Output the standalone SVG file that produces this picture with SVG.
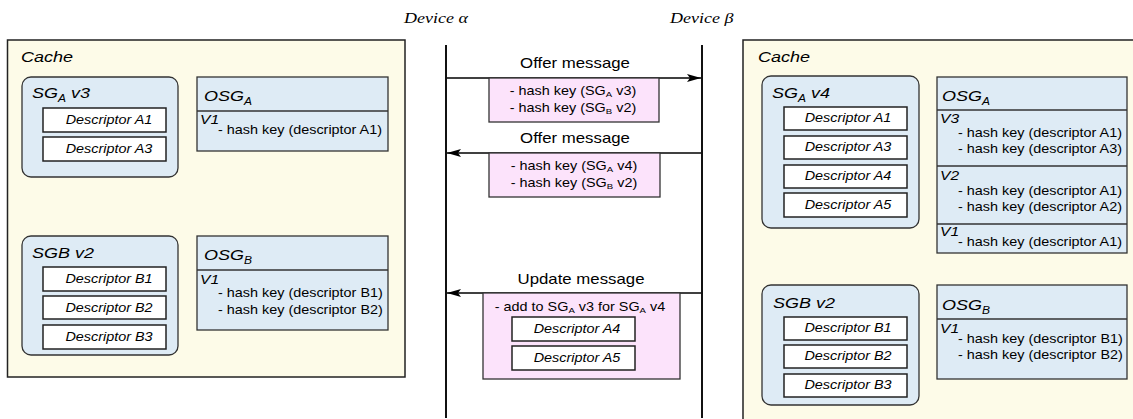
<svg xmlns="http://www.w3.org/2000/svg" width="1133" height="419" viewBox="0 0 1133 419">
<style>
text{font-family:"Liberation Sans",Arial,sans-serif;fill:#000}
.it{font-style:italic}
.f15{font-size:15px}
.f14{font-size:14px}
.f13{font-size:13px}
.f12{font-size:12px}
.dev{font-family:"Liberation Serif","Times New Roman",serif;font-style:italic;font-size:15px}
.cache{fill:#fdfbe8;stroke:#222;stroke-width:1.5}
.sg{fill:#deebf5;stroke:#333;stroke-width:1.3}
.osg{fill:#deebf5;stroke:#333;stroke-width:1.3}
.desc{fill:#fff;stroke:#222;stroke-width:1.5}
.pink{fill:#fce3fb;stroke:#333;stroke-width:1.3}
.div{stroke:#333;stroke-width:1.3}
.life{stroke:#111;stroke-width:2}
.msg{stroke:#000;stroke-width:1.5;fill:none;marker-end:url(#ah)}
</style>
<defs>
<marker id="ah" markerUnits="userSpaceOnUse" markerWidth="16" markerHeight="10" refX="14" refY="4" orient="auto">
<path d="M0,0 L14,4 L0,8 L3,4 z" fill="#000"/>
</marker>
</defs>
<rect width="1133" height="419" fill="#fff"/>

<!-- device labels -->
<g id="deviceA"><text class="dev" transform="translate(404 23) scale(1.2 1)">Device α</text></g>
<g id="deviceB"><text class="dev" transform="translate(670 23) scale(1.2 1)">Device β</text></g>

<!-- left cache -->
<g id="cacheAlpha">
<rect class="cache" x="7.5" y="40" width="397.5" height="337"/>
<text class="it f15" transform="translate(21 62) scale(1.2 1)">Cache</text>
</g>
<g id="sgA_v3">
<rect class="sg" x="22" y="77" width="156" height="100" rx="9"/>
<text class="it f15" transform="translate(32 98) scale(1.2 1)">SG<tspan font-size="10" dy="4">A</tspan><tspan dy="-4"> v3</tspan></text>
<rect class="desc" x="43" y="108" width="123" height="24"/>
<text class="it f12" text-anchor="middle" transform="translate(109 123.5) scale(1.2 1)">Descriptor A1</text>
<rect class="desc" x="43" y="137" width="123" height="24"/>
<text class="it f12" text-anchor="middle" transform="translate(109 152.5) scale(1.2 1)">Descriptor A3</text>
</g>
<g id="osgA_alpha">
<rect class="osg" x="197" y="77" width="191" height="74"/>
<line class="div" x1="197" y1="111" x2="388" y2="111"/>
<text class="it f15" transform="translate(204 101) scale(1.2 1)">OSG<tspan font-size="10" dy="4">A</tspan></text>
<text class="it f13" transform="translate(200 124) scale(1.2 1)">V1</text>
<text class="f12" transform="translate(218 134) scale(1.2 1)">- hash key (descriptor A1)</text>
</g>
<g id="sgB_alpha">
<rect class="sg" x="22" y="236" width="156" height="119" rx="9"/>
<text class="it f15" transform="translate(32 258) scale(1.2 1)">SGB v2</text>
<rect class="desc" x="43" y="267" width="123" height="24"/>
<text class="it f12" text-anchor="middle" transform="translate(109 282.5) scale(1.2 1)">Descriptor B1</text>
<rect class="desc" x="43" y="296" width="123" height="23"/>
<text class="it f12" text-anchor="middle" transform="translate(109 311.5) scale(1.2 1)">Descriptor B2</text>
<rect class="desc" x="43" y="325" width="123" height="24"/>
<text class="it f12" text-anchor="middle" transform="translate(109 340.5) scale(1.2 1)">Descriptor B3</text>
</g>
<g id="osgB_alpha">
<rect class="osg" x="197" y="236" width="191" height="94"/>
<line class="div" x1="197" y1="270" x2="388" y2="270"/>
<text class="it f15" transform="translate(204 260) scale(1.2 1)">OSG<tspan font-size="10" dy="4">B</tspan></text>
<text class="it f13" transform="translate(200 284) scale(1.2 1)">V1</text>
<text class="f12" transform="translate(218 297) scale(1.2 1)">- hash key (descriptor B1)</text>
<text class="f12" transform="translate(218 314) scale(1.2 1)">- hash key (descriptor B2)</text>
</g>

<!-- right cache -->
<g id="cacheBeta">
<rect class="cache" x="743" y="40" width="420" height="400"/>
<text class="it f15" transform="translate(758 62) scale(1.2 1)">Cache</text>
</g>
<g id="sgA_v4">
<rect class="sg" x="762" y="76" width="157" height="152" rx="9"/>
<text class="it f15" transform="translate(772 98) scale(1.2 1)">SG<tspan font-size="10" dy="4">A</tspan><tspan dy="-4"> v4</tspan></text>
<rect class="desc" x="784" y="107" width="123" height="23"/>
<text class="it f12" text-anchor="middle" transform="translate(848 122) scale(1.2 1)">Descriptor A1</text>
<rect class="desc" x="784" y="136" width="123" height="23"/>
<text class="it f12" text-anchor="middle" transform="translate(848 151) scale(1.2 1)">Descriptor A3</text>
<rect class="desc" x="784" y="165" width="123" height="23"/>
<text class="it f12" text-anchor="middle" transform="translate(848 180) scale(1.2 1)">Descriptor A4</text>
<rect class="desc" x="784" y="193" width="123" height="24"/>
<text class="it f12" text-anchor="middle" transform="translate(848 208.5) scale(1.2 1)">Descriptor A5</text>
</g>
<g id="osgA_beta">
<rect class="osg" x="937" y="77" width="190" height="176"/>
<line class="div" x1="937" y1="110" x2="1127" y2="110"/>
<line class="div" x1="937" y1="166" x2="1127" y2="166"/>
<line class="div" x1="937" y1="224" x2="1127" y2="224"/>
<text class="it f15" transform="translate(942 101) scale(1.2 1)">OSG<tspan font-size="10" dy="4">A</tspan></text>
<text class="it f13" transform="translate(940 123) scale(1.2 1)">V3</text>
<text class="f12" transform="translate(958 137) scale(1.2 1)">- hash key (descriptor A1)</text>
<text class="f12" transform="translate(958 153) scale(1.2 1)">- hash key (descriptor A3)</text>
<text class="it f13" transform="translate(940 180) scale(1.2 1)">V2</text>
<text class="f12" transform="translate(958 195) scale(1.2 1)">- hash key (descriptor A1)</text>
<text class="f12" transform="translate(958 211) scale(1.2 1)">- hash key (descriptor A2)</text>
<text class="it f13" transform="translate(940 236) scale(1.2 1)">V1</text>
<text class="f12" transform="translate(958 246) scale(1.2 1)">- hash key (descriptor A1)</text>
</g>
<g id="sgB_beta">
<rect class="sg" x="762" y="285" width="157" height="120" rx="9"/>
<text class="it f15" transform="translate(773 308) scale(1.2 1)">SGB v2</text>
<rect class="desc" x="784" y="317" width="123" height="23"/>
<text class="it f12" text-anchor="middle" transform="translate(848 332) scale(1.2 1)">Descriptor B1</text>
<rect class="desc" x="784" y="345" width="123" height="23"/>
<text class="it f12" text-anchor="middle" transform="translate(848 360) scale(1.2 1)">Descriptor B2</text>
<rect class="desc" x="784" y="374" width="123" height="23"/>
<text class="it f12" text-anchor="middle" transform="translate(848 389) scale(1.2 1)">Descriptor B3</text>
</g>
<g id="osgB_beta">
<rect class="osg" x="937" y="285" width="190" height="94"/>
<line class="div" x1="937" y1="319" x2="1127" y2="319"/>
<text class="it f15" transform="translate(942 310) scale(1.2 1)">OSG<tspan font-size="10" dy="4">B</tspan></text>
<text class="it f13" transform="translate(940 333) scale(1.2 1)">V1</text>
<text class="f12" transform="translate(958 343) scale(1.2 1)">- hash key (descriptor B1)</text>
<text class="f12" transform="translate(958 359) scale(1.2 1)">- hash key (descriptor B2)</text>
</g>

<!-- connectors: lifelines and messages -->
<g id="connectors">
<line class="life" x1="446" y1="45" x2="446" y2="418"/>
<line class="life" x1="702" y1="45" x2="702" y2="418" stroke="#444"/>
<line class="msg" x1="447" y1="78" x2="701" y2="78"/>
<line class="msg" x1="701" y1="153" x2="447" y2="153"/>
<line class="msg" x1="701" y1="293" x2="447" y2="293"/>
</g>

<!-- message payloads -->
<g id="offer1">
<text class="f14" text-anchor="middle" transform="translate(575 68) scale(1.2 1)">Offer message</text>
<rect class="pink" x="489" y="78" width="170" height="44"/>
<text class="f12" text-anchor="middle" transform="translate(573 95) scale(1.2 1)">- hash key (SG<tspan font-size="8" dy="2">A</tspan><tspan dy="-2"> v3)</tspan></text>
<text class="f12" text-anchor="middle" transform="translate(573 112) scale(1.2 1)">- hash key (SG<tspan font-size="8" dy="2">B</tspan><tspan dy="-2"> v2)</tspan></text>
</g>
<g id="offer2">
<text class="f14" text-anchor="middle" transform="translate(575 143) scale(1.2 1)">Offer message</text>
<rect class="pink" x="489" y="153" width="171" height="44"/>
<text class="f12" text-anchor="middle" transform="translate(574 170) scale(1.2 1)">- hash key (SG<tspan font-size="8" dy="2">A</tspan><tspan dy="-2"> v4)</tspan></text>
<text class="f12" text-anchor="middle" transform="translate(574 187) scale(1.2 1)">- hash key (SG<tspan font-size="8" dy="2">B</tspan><tspan dy="-2"> v2)</tspan></text>
</g>
<g id="update">
<text class="f14" text-anchor="middle" transform="translate(581 284) scale(1.2 1)">Update message</text>
<rect class="pink" x="483" y="293" width="197" height="86"/>
<text class="f12" text-anchor="middle" transform="translate(580 311) scale(1.2 1)">- add to SG<tspan font-size="8" dy="2">A</tspan><tspan dy="-2"> v3 for SG</tspan><tspan font-size="8" dy="2">A</tspan><tspan dy="-2"> v4</tspan></text>
<rect class="desc" x="512" y="317" width="123" height="24"/>
<text class="it f12" text-anchor="middle" transform="translate(577 332.5) scale(1.2 1)">Descriptor A4</text>
<rect class="desc" x="512" y="346" width="123" height="24"/>
<text class="it f12" text-anchor="middle" transform="translate(577 361.5) scale(1.2 1)">Descriptor A5</text>
</g>
</svg>
